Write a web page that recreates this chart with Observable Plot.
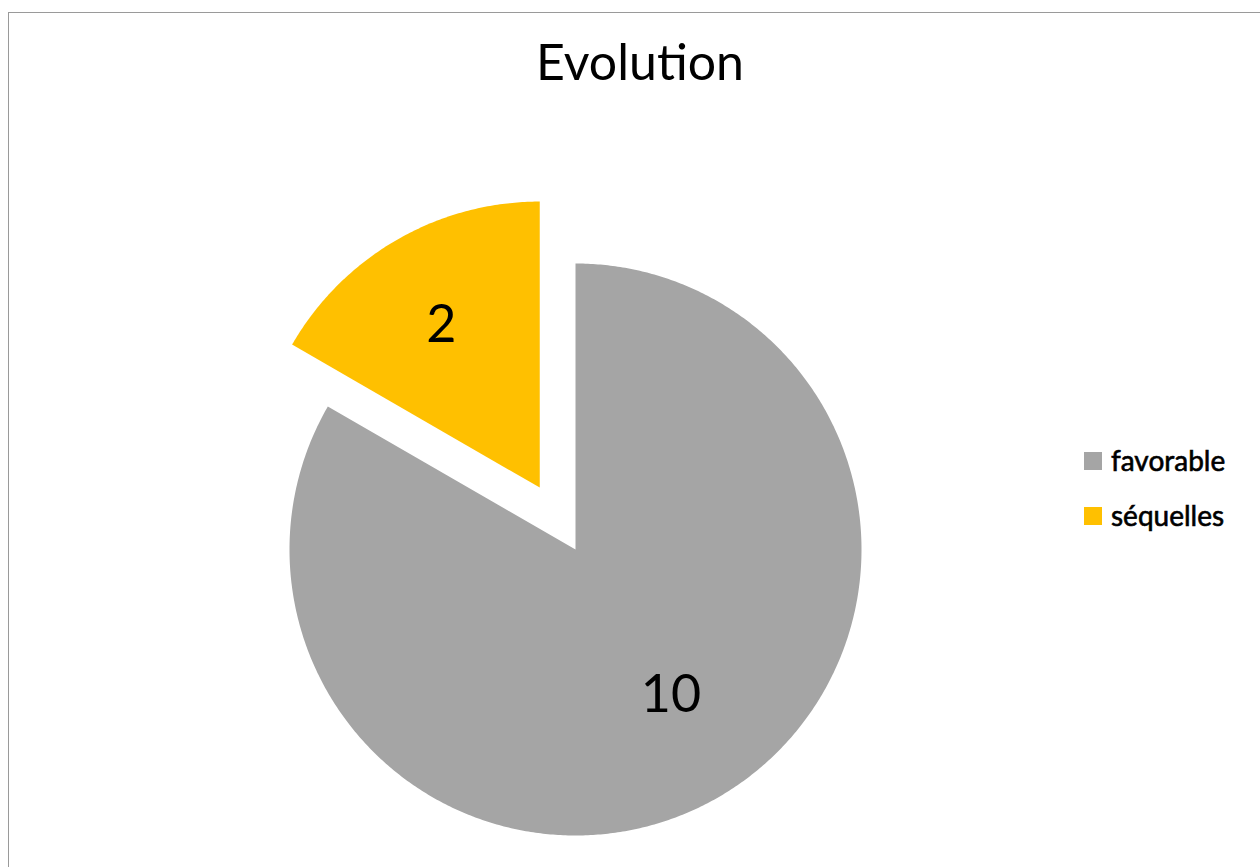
<!DOCTYPE html>
<html>
<head>
<meta charset="utf-8">
<script src="https://cdn.jsdelivr.net/npm/d3@7"></script>
<script src="https://cdn.jsdelivr.net/npm/@observablehq/plot@0.6"></script>
<style>
  html, body { margin: 0; padding: 0; background: #fff; }
  #chart { position: relative; width: 1260px; height: 867px; overflow: hidden; font-family: Lato, "Open Sans", sans-serif; }
  #frame { position: absolute; left: 8px; top: 12px; width: 1300px; height: 900px; border: 1px solid #9a9a9a; box-sizing: border-box; }
  #title { position: absolute; left: 0; width: 1280px; top: 31px; text-align: center; font-size: 50px; color: #000; }
  #plot { position: absolute; left: 0; top: 0; }
  #legend { position: absolute; left: 1084px; top: 445px; font-size: 28px; color: #000; -webkit-text-stroke: 0.6px #000; }
  .item { display: flex; align-items: center; height: 30px; margin-bottom: 25px; }
  .swatch { width: 18px; height: 18px; margin-right: 9px; margin-top: 2px; }
</style>
</head>
<body>
<div id="chart">
  <div id="frame"></div>
  <div id="plot"></div>
  <div id="title">Evolution</div>
  <div id="legend"></div>
</div>
<script>
// Outcome counts
const categories = ["favorable", "séquelles"];
const values = [10, 2];
const colors = ["#A5A5A5", "#FFC000"];
const exploded = [0, 0.25]; // offset of each slice, as a fraction of the radius

const W = 1260, H = 867;
const R = 286, CX = 575, CY = 549;

// Slice angles (clockwise from 12 o'clock); séquelles ends at the top.
const pie = d3.pie().sort(null).startAngle(-2 * Math.PI).value(d => d.value);
const slices = pie(categories.map((c, i) => ({category: c, value: values[i], color: colors[i], explode: exploded[i]})));

// Small label nudges (in pixels), as the spreadsheet places them
const labelNudge = {"favorable": [4, -13], "séquelles": [-7, -4]};

const outline = [];
const labels = [];
for (const s of slices) {
  const mid = (s.startAngle + s.endAngle) / 2;
  const ox = s.data.explode * Math.sin(mid), oy = s.data.explode * Math.cos(mid);
  outline.push({category: s.data.category, x: ox, y: oy});
  const steps = Math.ceil((s.endAngle - s.startAngle) / (Math.PI / 360));
  for (let k = 0; k <= steps; ++k) {
    const a = s.startAngle + (s.endAngle - s.startAngle) * k / steps;
    outline.push({category: s.data.category, x: ox + Math.sin(a), y: oy + Math.cos(a)});
  }
  outline.push({category: s.data.category, x: ox, y: oy});
  const lr = 0.64;
  labels.push({category: s.data.category, value: s.data.value, x: ox + lr * Math.sin(mid), y: oy + lr * Math.cos(mid)});
}

const plot = Plot.plot({
  width: W,
  height: H,
  margin: 0,
  x: {domain: [-CX / R, (W - CX) / R], axis: null},
  y: {domain: [-(H - CY) / R, CY / R], axis: null},
  color: {domain: categories, range: colors},
  marks: [
    Plot.line(outline, {x: "x", y: "y", z: "category", fill: "category", stroke: null, curve: "linear"}),
    ...labels.map(l => Plot.text([l], {
      x: "x", y: "y", text: d => String(d.value),
      dx: labelNudge[l.category][0], dy: labelNudge[l.category][1],
      fontSize: 52, fill: "#000", fontFamily: "Lato, 'Open Sans', sans-serif"
    }))
  ]
});
document.getElementById("plot").appendChild(plot);

const legend = document.getElementById("legend");
categories.forEach((c, i) => {
  const item = document.createElement("div");
  item.className = "item";
  const sw = document.createElement("div");
  sw.className = "swatch";
  sw.style.background = colors[i];
  const tx = document.createElement("span");
  tx.textContent = c;
  item.appendChild(sw);
  item.appendChild(tx);
  legend.appendChild(item);
});
</script>
</body>
</html>
